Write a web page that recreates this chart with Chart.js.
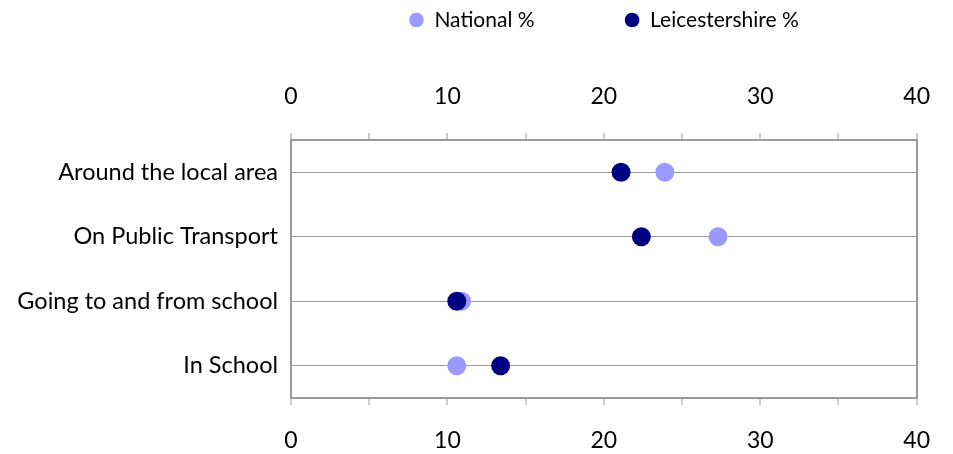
<!DOCTYPE html>
<html>
<head>
<meta charset="utf-8">
<script src="https://cdn.jsdelivr.net/npm/chart.js@4/dist/chart.umd.min.js"></script>
<style>
  html, body { margin: 0; padding: 0; background: #ffffff; }
  #wrap { width: 953px; height: 454px; }
</style>
</head>
<body>
<div id="wrap"><canvas id="chart" width="953" height="454"></canvas></div>
<script>
// Where young people feel unsafe: national vs Leicestershire percentages
const categories = ['Around the local area', 'On Public Transport', 'Going to and from school', 'In School'];
const nationalPct = [23.9, 27.3, 10.9, 10.6];
const leicestershirePct = [21.1, 22.4, 10.6, 13.4];
const axisMin = 0;
const axisMax = 40;

const FONT = 'Lato, "DejaVu Sans", sans-serif';
const AXIS_GREY = '#9a9a9a';
const LEGEND_HEIGHT = 44;   // band reserved for the legend above the top axis
const LEGEND_CENTER_Y = 20; // vertical centre of the legend row
const LEGEND_FONT_SIZE = 21;
const LEGEND_GAP = 90;

// Keeps the legend in a fixed band and centres it over the plot area,
// while still allowing a wide horizontal gap between its items.
const legendPlacement = {
  id: 'legendPlacement',
  beforeLayout(chart) {
    const lg = chart.legend;
    if (!lg || lg._placed) return;
    lg._placed = true;
    const fit = lg.fit;
    lg.fit = function () {
      fit.call(this);
      this.height = LEGEND_HEIGHT;
    };
    const draw = lg.draw;
    lg.draw = function () {
      const area = this.chart.chartArea;
      const saved = { left: this.left, right: this.right, top: this.top };
      const dx = (area.left + area.right) / 2 - (this.left + this.right) / 2;
      this.left += dx;
      this.right += dx;
      this.top = LEGEND_CENTER_Y - LEGEND_GAP - LEGEND_FONT_SIZE / 2;
      draw.call(this);
      this.left = saved.left;
      this.right = saved.right;
      this.top = saved.top;
    };
  }
};

function xAxis(position, padding, height) {
  return {
    type: 'linear',
    position: position,
    min: axisMin,
    max: axisMax,
    afterFit: s => { s.height = height; },
    border: { display: true, color: AXIS_GREY, width: 2 },
    grid: {
      drawOnChartArea: true,
      drawTicks: true,
      tickLength: 7,
      tickColor: AXIS_GREY,
      tickWidth: 1,
      color: ctx => (ctx.tick && (ctx.tick.value === axisMin || ctx.tick.value === axisMax)) ? AXIS_GREY : 'rgba(0,0,0,0)',
      lineWidth: 2
    },
    ticks: {
      stepSize: 5,
      autoSkip: false,
      maxRotation: 0,
      padding: padding,
      color: '#000000',
      font: { family: FONT, size: 23 },
      callback: v => (v % 10 === 0 ? String(v) : '')
    }
  };
}

function pointSeries(label, values, colour) {
  return {
    label: label,
    data: values,
    showLine: false,
    pointStyle: 'circle',
    pointRadius: 9.5,
    pointHoverRadius: 9.5,
    pointBackgroundColor: colour,
    pointBorderColor: colour,
    pointBorderWidth: 0,
    borderWidth: 0,
    backgroundColor: colour,
    borderColor: colour,
    xAxisID: 'x',
    yAxisID: 'y'
  };
}

new Chart(document.getElementById('chart'), {
  type: 'line',
  data: {
    labels: categories,
    datasets: [
      pointSeries('Leicestershire %', leicestershirePct, '#000080'),
      pointSeries('National %', nationalPct, '#9999ff')
    ]
  },
  plugins: [legendPlacement],
  options: {
    indexAxis: 'y',
    responsive: false,
    animation: false,
    layout: { padding: { left: 0, right: 36, top: 0, bottom: 0 } },
    plugins: {
      legend: {
        position: 'top',
        reverse: true,
        labels: {
          usePointStyle: true,
          pointStyle: 'circle',
          boxWidth: 15,
          boxHeight: 10.4,
          padding: LEGEND_GAP,
          color: '#000000',
          font: { family: FONT, size: LEGEND_FONT_SIZE }
        }
      },
      tooltip: { enabled: false }
    },
    scales: {
      x: xAxis('bottom', 22, 56),
      x2: xAxis('top', 23, 96),
      y: {
        type: 'category',
        offset: true,
        afterFit: s => { s.width = 291; },
        border: { display: false },
        grid: {
          offset: false,
          drawTicks: false,
          color: AXIS_GREY,
          lineWidth: 1
        },
        ticks: {
          padding: 13,
          color: '#000000',
          font: { family: FONT, size: 23.5 }
        }
      }
    }
  }
});
</script>
</body>
</html>
